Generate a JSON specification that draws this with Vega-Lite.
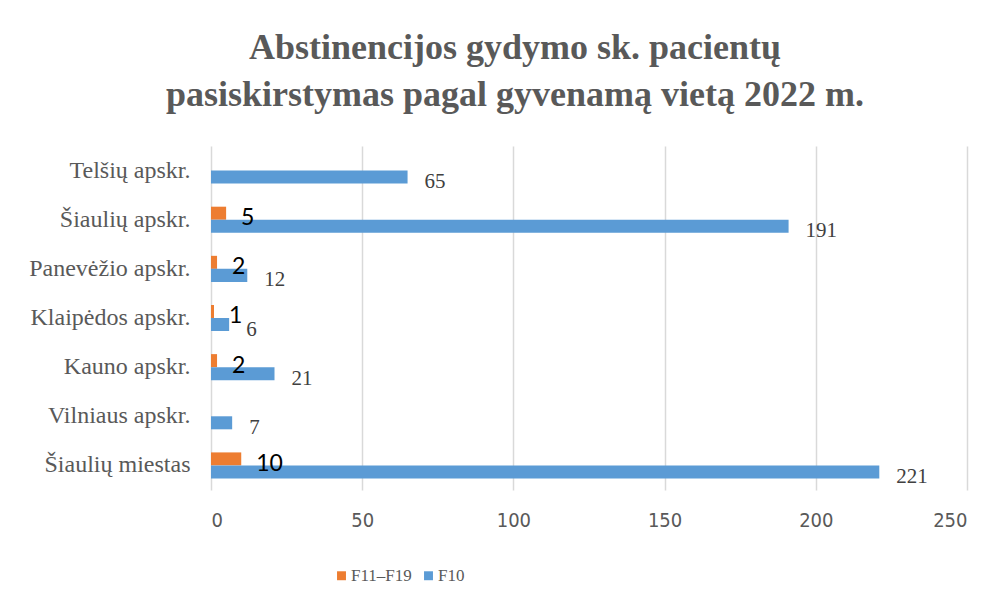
{
  "$schema": "https://vega.github.io/schema/vega-lite/v6.json",
  "width": 756,
  "height": 344,
  "autosize": {"type": "pad"},
  "padding": {"left": 11, "top": 30, "right": 20, "bottom": 5},
  "background": "white",
  "title": {
    "text": ["Abstinencijos gydymo sk. pacientų", "pasiskirstymas  pagal gyvenamą vietą 2022 m."],
    "font": "Liberation Serif",
    "fontSize": 36,
    "fontWeight": "bold",
    "color": "#595959",
    "lineHeight": 47,
    "anchor": "middle",
    "frame": "group",
    "dx": -74,
    "offset": 32
  },
  "data": {
    "values": [
      {"region": "Telšių apskr.", "series": "F10", "value": 65},
      {"region": "Šiaulių apskr.", "series": "F11–F19", "value": 5},
      {"region": "Šiaulių apskr.", "series": "F10", "value": 191},
      {"region": "Panevėžio apskr.", "series": "F11–F19", "value": 2},
      {"region": "Panevėžio apskr.", "series": "F10", "value": 12},
      {"region": "Klaipėdos apskr.", "series": "F11–F19", "value": 1},
      {"region": "Klaipėdos apskr.", "series": "F10", "value": 6},
      {"region": "Kauno apskr.", "series": "F11–F19", "value": 2},
      {"region": "Kauno apskr.", "series": "F10", "value": 21},
      {"region": "Vilniaus apskr.", "series": "F10", "value": 7},
      {"region": "Šiaulių miestas", "series": "F11–F19", "value": 10},
      {"region": "Šiaulių miestas", "series": "F10", "value": 221}
    ]
  },
  "encoding": {
    "y": {
      "field": "region",
      "type": "nominal",
      "sort": ["Telšių apskr.", "Šiaulių apskr.", "Panevėžio apskr.", "Klaipėdos apskr.", "Kauno apskr.", "Vilniaus apskr.", "Šiaulių miestas"],
      "scale": {"paddingInner": 0.47, "paddingOuter": 0.235},
      "axis": {
        "title": null,
        "domain": false,
        "ticks": false,
        "labelFont": "Liberation Serif",
        "labelFontSize": 24,
        "labelColor": "#595959",
        "labelPadding": 21,
        "minExtent": 200,
        "maxExtent": 200
      }
    },
    "yOffset": {
      "field": "series",
      "type": "nominal",
      "scale": {"domain": ["F11–F19", "F10"], "paddingInner": 0, "paddingOuter": 0}
    },
    "x": {
      "field": "value",
      "type": "quantitative",
      "scale": {"domain": [0, 250], "nice": false},
      "axis": {
        "title": null,
        "values": [0, 50, 100, 150, 200, 250],
        "grid": true,
        "gridColor": "#d9d9d9",
        "gridWidth": 1.5,
        "domain": false,
        "ticks": false,
        "labelFont": "DejaVu Sans Condensed, Liberation Sans Narrow, DejaVu Sans",
        "labelFontSize": 20,
        "labelFontWeight": 300,
        "labelColor": "#595959",
        "labelPadding": 20
      }
    }
  },
  "layer": [
    {
      "mark": {"type": "bar"},
      "encoding": {
        "color": {
          "field": "series",
          "type": "nominal",
          "scale": {"domain": ["F11–F19", "F10"], "range": ["#ED7D31", "#5B9BD5"]},
          "legend": {
            "title": null,
            "orient": "none",
            "direction": "horizontal",
            "legendX": 122,
            "legendY": 421,
            "symbolType": "square",
            "symbolSize": 80,
            "symbolStrokeWidth": 0,
            "labelFont": "Liberation Serif",
            "labelFontSize": 17,
            "labelColor": "#595959",
            "labelOffset": 1,
            "columnPadding": 8
          }
        }
      }
    },
    {
      "transform": [{"filter": "datum.series === 'F11–F19'"}],
      "mark": {"type": "text", "align": "left", "baseline": "middle", "dx": 15, "dy": 5, "font": "Lato", "fontSize": 23, "color": "#000000"},
      "encoding": {"text": {"field": "value", "type": "quantitative"}}
    },
    {
      "transform": [{"filter": "datum.series === 'F10'"}],
      "mark": {"type": "text", "align": "left", "baseline": "middle", "dx": 17, "dy": 5, "font": "Liberation Serif", "fontSize": 21, "color": "#404040"},
      "encoding": {"text": {"field": "value", "type": "quantitative"}}
    }
  ],
  "config": {"view": {"stroke": null}}
}
